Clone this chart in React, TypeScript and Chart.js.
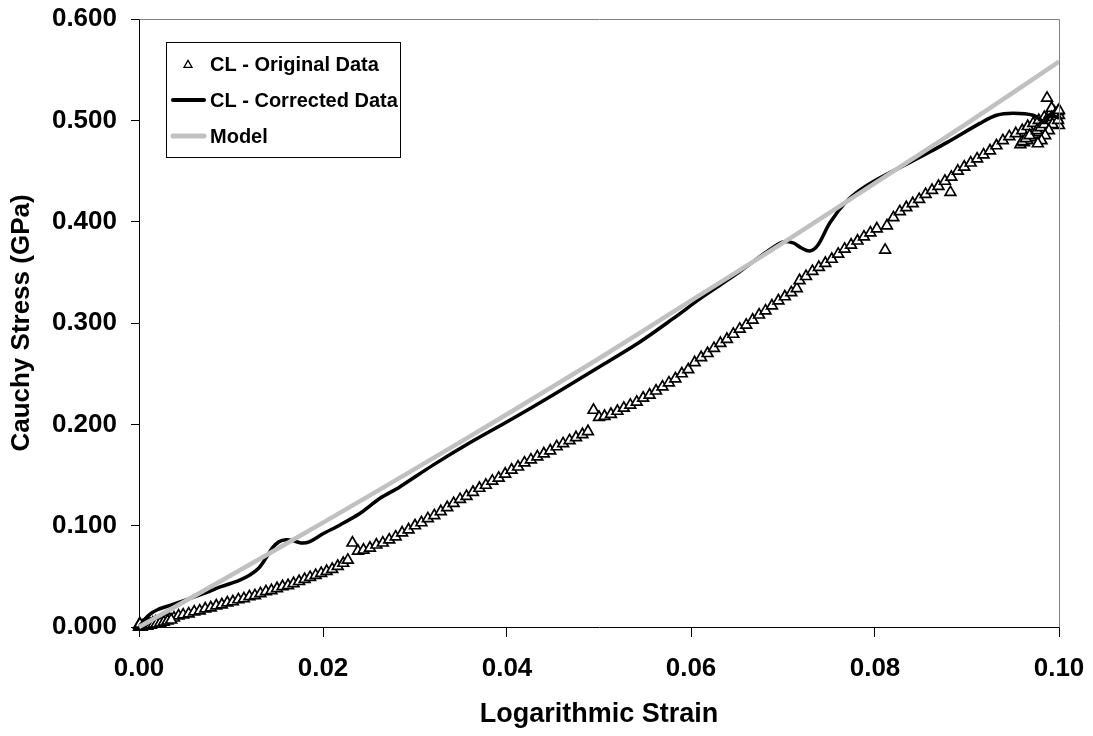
import React, { useEffect, useRef } from "react";
import { Chart, registerables } from "chart.js";

Chart.register(...registerables);

// Axis ticks
const xTickValues = [0, 0.02, 0.04, 0.06, 0.08, 0.1];
const yTickValues = [0, 0.1, 0.2, 0.3, 0.4, 0.5, 0.6];

// Series labels
const seriesLabels = ["CL - Original Data", "CL - Corrected Data", "Model"];

// CL - Original Data (logarithmic strain, Cauchy stress in GPa)
const originalStrain = [
  0.0, 0.0002, 0.0004, 0.0006, 0.0008, 0.001, 0.0012, 0.0015, 0.0018, 0.0021,
  0.0025, 0.0029, 0.0033, 0.0038, 0.0043, 0.0048, 0.0054, 0.006, 0.0066, 0.0072,
  0.0078, 0.0084, 0.009, 0.0096, 0.0102, 0.0108, 0.0114, 0.012, 0.0126, 0.0132,
  0.0138, 0.0144, 0.015, 0.0156, 0.0162, 0.0168, 0.0174, 0.018, 0.0186, 0.0192,
  0.0198, 0.0204, 0.021, 0.0216, 0.0222, 0.0227,
  0.0001, 0.0003, 0.0005, 0.0007, 0.0009, 0.0011, 0.0013, 0.0016, 0.0019, 0.0023,
  0.0027, 0.0031, 0.0035, 0.0, 0.0001,
  0.0232, 0.0238, 0.0244, 0.0251, 0.0258, 0.0265, 0.0272, 0.0279, 0.0286, 0.0293,
  0.03, 0.0307, 0.0314, 0.0321, 0.0328, 0.0335, 0.0342, 0.0349, 0.0356, 0.0363,
  0.037, 0.0377, 0.0384, 0.0391, 0.0398, 0.0405, 0.0412, 0.0419, 0.0426, 0.0433,
  0.044, 0.0447, 0.0454, 0.0461, 0.0468, 0.0475, 0.0482, 0.0488,
  0.0494, 0.05, 0.0506, 0.0513, 0.052, 0.0527, 0.0534, 0.0541, 0.0548, 0.0555,
  0.0562, 0.0569, 0.0576, 0.0583, 0.059, 0.0597, 0.0604, 0.0611, 0.0618, 0.0625,
  0.0632, 0.0639, 0.0646, 0.0653, 0.066, 0.0667, 0.0674, 0.0681, 0.0688, 0.0695,
  0.0702, 0.0709, 0.0715,
  0.0718, 0.0725, 0.0732, 0.0739, 0.0746, 0.0753, 0.076, 0.0767, 0.0774, 0.0781,
  0.0788, 0.0795, 0.0802, 0.0811, 0.0813, 0.082, 0.0827, 0.0834, 0.0841, 0.0848,
  0.0855, 0.0862, 0.0869, 0.0876, 0.0882, 0.0883, 0.089, 0.0897, 0.0904, 0.0911,
  0.0918, 0.0925, 0.0932, 0.0939, 0.0946, 0.0953, 0.096, 0.0966, 0.0972, 0.0978,
  0.0984, 0.099, 0.0995, 0.1,
  0.0958, 0.0962, 0.0966, 0.097, 0.0974, 0.0978, 0.0982, 0.0986, 0.099, 0.0994,
  0.0998, 0.0987, 0.0992, 0.0996, 0.1,
  0.096, 0.0964, 0.0968, 0.0976, 0.098, 0.0984, 0.0988, 0.0992, 0.0996, 0.0999,
  0.0997, 0.0993, 0.0989, 0.0985, 0.0981, 0.0977, 0.0999, 0.1,
];
const originalStress = [
  0.0, 0.001, 0.001, 0.002, 0.002, 0.003, 0.003, 0.004, 0.005, 0.005,
  0.006, 0.007, 0.008, 0.009, 0.011, 0.012, 0.013, 0.015, 0.016, 0.018,
  0.019, 0.021, 0.022, 0.024, 0.025, 0.027, 0.028, 0.03, 0.031, 0.033,
  0.035, 0.036, 0.038, 0.04, 0.041, 0.043, 0.045, 0.047, 0.049, 0.051,
  0.053, 0.055, 0.057, 0.06, 0.063, 0.066,
  0.0, 0.0, 0.001, 0.001, 0.001, 0.002, 0.002, 0.003, 0.003, 0.004,
  0.005, 0.006, 0.007, 0.002, 0.003,
  0.083, 0.075, 0.076, 0.078, 0.081, 0.083, 0.086, 0.089, 0.093, 0.096,
  0.1, 0.103, 0.107, 0.11, 0.114, 0.118, 0.122, 0.126, 0.129, 0.133,
  0.137, 0.14, 0.144, 0.147, 0.151, 0.155, 0.158, 0.162, 0.165, 0.168,
  0.171, 0.174, 0.178, 0.181, 0.184, 0.187, 0.19, 0.193,
  0.214, 0.207, 0.208, 0.21, 0.213, 0.216, 0.219, 0.222, 0.226, 0.229,
  0.233, 0.237, 0.241, 0.245, 0.25, 0.254, 0.261, 0.266, 0.27, 0.275,
  0.28, 0.284, 0.289, 0.294, 0.298, 0.303, 0.308, 0.312, 0.317, 0.322,
  0.326, 0.33, 0.334,
  0.342, 0.346, 0.351, 0.355, 0.359, 0.363, 0.368, 0.373, 0.377, 0.381,
  0.385, 0.389, 0.393, 0.372, 0.396, 0.404, 0.41, 0.414, 0.418, 0.422,
  0.427, 0.431, 0.435, 0.44, 0.429, 0.444, 0.45, 0.454, 0.458, 0.462,
  0.466, 0.47, 0.475, 0.48, 0.484, 0.487, 0.49, 0.494, 0.497, 0.5,
  0.503, 0.506, 0.508, 0.505,
  0.476, 0.478, 0.48, 0.483, 0.486, 0.488, 0.491, 0.494, 0.497, 0.5,
  0.502, 0.522, 0.512, 0.498, 0.495,
  0.479, 0.482, 0.485, 0.49, 0.493, 0.496, 0.5, 0.503, 0.506, 0.509,
  0.503, 0.496, 0.49, 0.485, 0.48, 0.477, 0.5, 0.51,
];

// CL - Corrected Data
const correctedStrain = [
  0.0, 0.0005, 0.0011, 0.002, 0.0036, 0.0055, 0.0073, 0.009, 0.0109, 0.012,
  0.013, 0.0138, 0.0145, 0.0152, 0.016, 0.0168, 0.0176, 0.0185, 0.02, 0.0218,
  0.024, 0.0262, 0.0283, 0.032, 0.036, 0.0403, 0.045, 0.0501, 0.0544, 0.058,
  0.061, 0.0631, 0.0655, 0.0682, 0.07, 0.0711, 0.072, 0.0729, 0.0738, 0.0751,
  0.0769, 0.0785, 0.0805, 0.0841, 0.0878, 0.0914, 0.0932, 0.095, 0.0972, 0.0985,
  0.099, 0.1,
];
const correctedStress = [
  0.0, 0.006, 0.012, 0.017, 0.022, 0.028, 0.034, 0.04, 0.046, 0.051,
  0.058, 0.068, 0.078, 0.084, 0.086, 0.085, 0.083, 0.084, 0.092, 0.1005,
  0.112, 0.127, 0.138, 0.16, 0.182, 0.204, 0.229, 0.257, 0.281, 0.304,
  0.324, 0.337, 0.352, 0.37, 0.38, 0.379, 0.374, 0.371, 0.377, 0.399,
  0.42, 0.432, 0.443, 0.46, 0.478, 0.497, 0.505, 0.507, 0.505, 0.498,
  0.505, 0.502,
];

// Model
const modelStrain = [0, 0.01, 0.02, 0.03, 0.04, 0.05, 0.06, 0.07, 0.08, 0.09, 0.1];
const modelStress = [0, 0.051, 0.103, 0.156, 0.21, 0.265, 0.322, 0.379, 0.438, 0.497, 0.558];

const FONT = "'Liberation Sans', Arial, Helvetica, sans-serif";
const GRAY = "#c0c0c0";

const toPoints = (xs: number[], ys: number[]) => xs.map((x, i) => ({ x, y: ys[i] }));

// Frame (gray top/right edges) and the boxed legend inside the plot
const framePlugin = {
  id: "frameAndLegend",
  afterDatasetsDraw(chart: any) {
    const { ctx, chartArea } = chart;
    const { left, right, top, bottom } = chartArea;
    ctx.save();
    ctx.strokeStyle = "#808080";
    ctx.lineWidth = 1;
    ctx.beginPath();
    ctx.moveTo(Math.round(left) + 0.5, Math.round(top) + 0.5);
    ctx.lineTo(Math.round(right) + 0.5, Math.round(top) + 0.5);
    ctx.lineTo(Math.round(right) + 0.5, Math.round(bottom) + 0.5);
    ctx.stroke();

    // legend box
    const bx = 166.5, by = 42.5, bw = 234, bh = 115;
    ctx.fillStyle = "#ffffff";
    ctx.fillRect(bx, by, bw, bh);
    ctx.strokeStyle = "#000000";
    ctx.lineWidth = 1;
    ctx.strokeRect(bx, by, bw, bh);

    const rows = [64, 100, 136];
    const textX = 210;
    ctx.font = `bold 20px ${FONT}`;
    ctx.fillStyle = "#000";
    ctx.textBaseline = "middle";
    ctx.textAlign = "left";

    // triangle marker
    const r = 4.6;
    const cx = 188, cy = rows[0] + 1;
    ctx.beginPath();
    ctx.moveTo(cx, cy - r);
    ctx.lineTo(cx + r * 0.866, cy + r * 0.5);
    ctx.lineTo(cx - r * 0.866, cy + r * 0.5);
    ctx.closePath();
    ctx.fillStyle = "#fff";
    ctx.fill();
    ctx.lineWidth = 1.3;
    ctx.strokeStyle = "#000";
    ctx.stroke();

    // corrected line sample
    ctx.lineCap = "round";
    ctx.beginPath();
    ctx.moveTo(173, rows[1]);
    ctx.lineTo(204, rows[1]);
    ctx.lineWidth = 4;
    ctx.strokeStyle = "#000";
    ctx.stroke();

    // model line sample
    ctx.beginPath();
    ctx.moveTo(173, rows[2]);
    ctx.lineTo(204, rows[2]);
    ctx.lineWidth = 5;
    ctx.strokeStyle = GRAY;
    ctx.stroke();

    ctx.fillStyle = "#000";
    seriesLabels.forEach((t, i) => ctx.fillText(t, textX, rows[i] + 1));
    ctx.restore();
  },
};

export default function App() {
  const canvasRef = useRef<HTMLCanvasElement | null>(null);

  useEffect(() => {
    const canvas = canvasRef.current;
    if (!canvas) return;
    const chart = new Chart(canvas, {
      type: "scatter",
      data: {
        datasets: [
          {
            label: seriesLabels[0],
            data: toPoints(originalStrain, originalStress),
            showLine: false,
            pointStyle: "triangle",
            pointRadius: 6.2,
            pointBackgroundColor: "#ffffff",
            pointBorderColor: "#000000",
            pointBorderWidth: 1.7,
            clip: false,
            order: 3,
          },
          {
            label: seriesLabels[1],
            data: toPoints(correctedStrain, correctedStress),
            showLine: true,
            borderColor: "#000000",
            borderWidth: 3.5,
            pointRadius: 0,
            tension: 0.3,
            clip: false,
            order: 2,
          },
          {
            label: seriesLabels[2],
            data: toPoints(modelStrain, modelStress),
            showLine: true,
            borderColor: GRAY,
            borderWidth: 4.5,
            pointRadius: 0,
            tension: 0.2,
            clip: false,
            order: 1,
          },
        ],
      },
      options: {
        responsive: false,
        animation: false,
        devicePixelRatio: 1,
        layout: { padding: { left: 0, top: 19, right: 34, bottom: 0 } },
        plugins: {
          legend: { display: false },
          tooltip: { enabled: false },
        },
        scales: {
          x: {
            type: "linear",
            min: 0,
            max: 0.1,
            afterBuildTicks: (scale: any) => {
              scale.ticks = xTickValues.map((v) => ({ value: v }));
            },
            afterFit: (scale: any) => {
              scale.height = 109;
              scale.paddingLeft = 0;
              scale.paddingRight = 0;
            },
            ticks: {
              color: "#000",
              font: { family: FONT, size: 26, weight: "bold" },
              padding: 16,
              maxRotation: 0,
              callback: (v: any) => Number(v).toFixed(2),
            },
            grid: { drawOnChartArea: false, tickLength: 10, color: "#000" },
            border: { display: true, color: "#000", width: 1 },
            title: {
              display: true,
              text: "Logarithmic Strain",
              color: "#000",
              font: { family: FONT, size: 27, weight: "bold" },
              padding: { top: 0, bottom: 5 },
            },
          },
          y: {
            type: "linear",
            min: 0,
            max: 0.6,
            afterBuildTicks: (scale: any) => {
              scale.ticks = yTickValues.map((v) => ({ value: v }));
            },
            afterFit: (scale: any) => {
              scale.width = 139;
              scale.paddingTop = 0;
              scale.paddingBottom = 0;
            },
            ticks: {
              color: "#000",
              font: { family: FONT, size: 26, weight: "bold" },
              padding: 14,
              callback: (v: any) => Number(v).toFixed(3),
            },
            grid: { drawOnChartArea: false, tickLength: 8, color: "#000" },
            border: { display: true, color: "#000", width: 1 },
            title: {
              display: true,
              text: "Cauchy Stress (GPa)",
              color: "#000",
              font: { family: FONT, size: 26, weight: "bold" },
              padding: { top: 6, bottom: 0 },
            },
          },
        },
      },
      plugins: [framePlugin],
    });
    return () => chart.destroy();
  }, []);

  return (
    <div style={{ position: "fixed", left: 0, top: 0, width: 1093, height: 736, background: "#fff" }}>
      <canvas ref={canvasRef} width={1093} height={736} />
    </div>
  );
}
